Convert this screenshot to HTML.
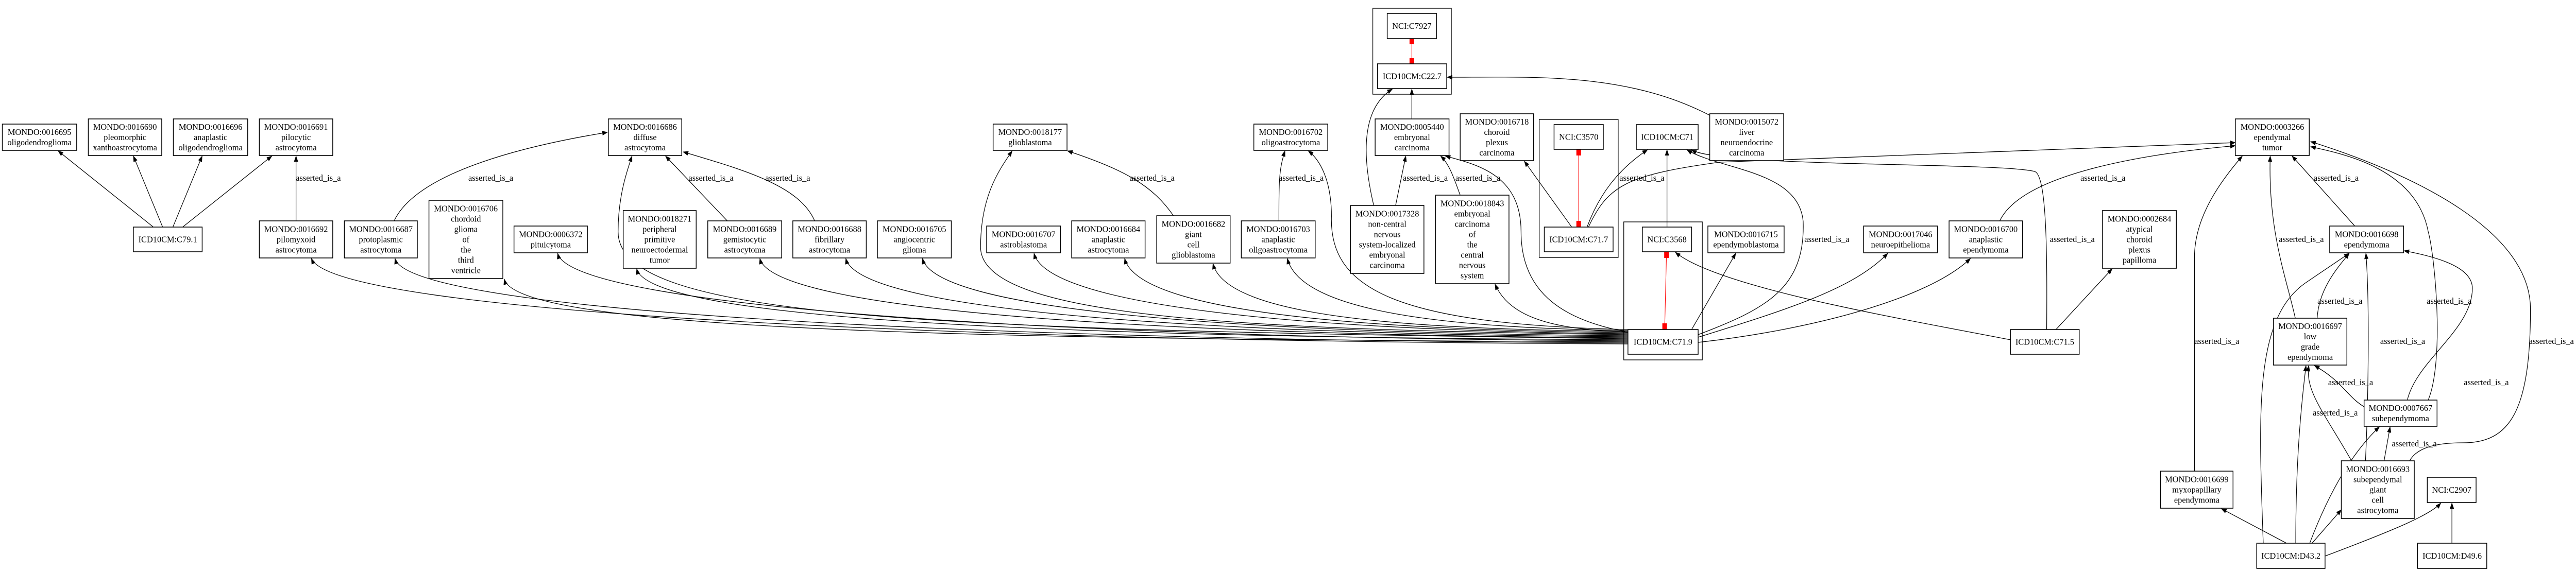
<!DOCTYPE html>
<html><head><meta charset="utf-8"><style>
html,body{margin:0;padding:0;background:#fff;overflow:hidden;}
svg{display:block;width:100vw;height:100vh;}
text{font-family:"Liberation Serif",serif;font-size:16.5px;text-anchor:middle;fill:#000;}
.n rect{fill:#fff;stroke:#000;stroke-width:1.6;}
.e{fill:none;stroke:#000;stroke-width:1.3;marker-end:url(#a);}
.c{fill:none;stroke:#000;stroke-width:1.4;}
</style></head><body>
<svg viewBox="0 0 5543 1109" preserveAspectRatio="none" xmlns="http://www.w3.org/2000/svg">
<defs><marker id="a" markerUnits="userSpaceOnUse" markerWidth="12" markerHeight="9" refX="11" refY="4.5" orient="auto"><path d="M0,0 L12,4.5 L0,9 z" fill="#000"/></marker></defs>

<rect class="c" x="2954" y="16" width="169" height="167"/>
<rect class="c" x="3312" y="232" width="170" height="268"/>
<rect class="c" x="3494" y="431" width="169" height="268"/>

<g stroke="red" fill="red">
<line x1="3038" y1="75" x2="3038" y2="124" stroke-width="1.2"/>
<rect x="3033" y="75" width="10" height="11" stroke="none"/><rect x="3033" y="113" width="10" height="11" stroke="none"/>
<line x1="3397" y1="290" x2="3397" y2="441" stroke-width="1.2"/>
<rect x="3392" y="290" width="10" height="12" stroke="none"/><rect x="3392" y="429" width="10" height="12" stroke="none"/>
<line x1="3586" y1="489" x2="3582" y2="640" stroke-width="1.2"/>
<rect x="3581" y="489" width="10" height="12" stroke="none"/><rect x="3577" y="628" width="10" height="12" stroke="none"/>
</g>

<path class="e" d="M330,441 L125,293"/>
<path class="e" d="M350,441 L287,303"/>
<path class="e" d="M372,441 L435,303"/>
<path class="e" d="M393,441 L585,303"/>
<path class="e" d="M637,429 L637,303"/>
<path class="e" d="M848,429 C900,330 1150,280 1307,257"/>
<path class="e" d="M1565,429 L1432,303"/>
<path class="e" d="M1753,429 C1720,360 1600,330 1470,295"/>
<path class="e" d="M2525,419 C2480,360 2420,330 2297,293"/>
<path class="e" d="M2752,429 C2752,350 2752,330 2765,293"/>
<path class="e" d="M3003,399 L3025,303"/>
<path class="e" d="M3142,379 C3130,350 3120,320 3100,303"/>
<path class="e" d="M2956,399 C2930,300 2930,210 2996,173"/>
<path class="e" d="M3038,231 L3038,173"/>
<path class="e" d="M3679,224 C3500,140 3300,150 3114,150"/>
<path class="e" d="M3382,441 L3280,313"/>
<path class="e" d="M3415,441 C3440,380 3480,330 3545,291"/>
<path class="e" d="M3418,441 C3460,360 3500,340 3700,315 L4810,277"/>
<path class="e" d="M3587,441 L3587,291"/>
<path class="e" d="M3654,650 C3800,600 3885,560 3880,430 C3870,330 3700,330 3630,291"/>
<path class="e" d="M4404,640 C4405,500 4405,340 4378,333 C4300,315 3700,325 3640,291"/>
<path class="e" d="M4326,660 C4100,620 3700,560 3605,490"/>
<path class="e" d="M4424,640 L4545,522"/>
<path class="e" d="M3640,640 L3735,492"/>
<path class="e" d="M3654,655 C3850,600 3990,560 4062,492"/>
<path class="e" d="M3654,665 C3900,640 4150,580 4240,502"/>
<path class="e" d="M4303,429 C4350,340 4600,300 4810,283"/>
<path class="e" d="M5067,439 L4932,303"/>
<path class="e" d="M4939,618 C4920,540 4880,450 4885,303"/>
<path class="e" d="M4722,915 L4722,500 C4722,420 4780,350 4825,303"/>
<path class="e" d="M5185,895 C5200,870 5240,860 5300,860 C5400,860 5445,800 5445,600 C5445,450 5200,340 4972,275"/>
<path class="e" d="M5225,777 C5260,700 5240,500 5225,450 C5200,330 5050,300 4972,285"/>
<path class="e" d="M5180,777 C5200,700 5320,640 5320,560 C5320,520 5250,500 5173,487"/>
<path class="e" d="M4986,618 C4990,560 5030,520 5055,492"/>
<path class="e" d="M5087,790 C5050,770 5040,740 4980,710"/>
<path class="e" d="M5060,895 C5000,800 4960,760 4968,710"/>
<path class="e" d="M5130,895 L5143,829"/>
<path class="e" d="M5090,895 C5095,800 5100,600 5091,492"/>
<path class="e" d="M4920,1055 L4780,988"/>
<path class="e" d="M4940,1055 C4940,900 4950,800 4962,710"/>
<path class="e" d="M4975,1055 L5038,990"/>
<path class="e" d="M4970,1055 C5010,960 5060,880 5120,829"/>
<path class="e" d="M5003,1080 C5150,1030 5230,1000 5252,977"/>
<path class="e" d="M4870,1055 C4860,800 4850,620 4960,550 L5055,492"/>
<path class="e" d="M5276,1055 L5276,977"/>

<path class="e" d="M3503,668 C2087,663 720,610 670,502"/>
<path class="e" d="M3503,666 C2177,661 880,610 850,502"/>
<path class="e" d="M3503,664 C2294,659 1115,650 1085,542"/>
<path class="e" d="M3503,662 C2352,657 1230,600 1200,492"/>
<path class="e" d="M3503,660 C2437,655 1400,630 1370,522"/>
<path class="e" d="M3503,658 C2000,640 1330,620 1330,450 C1330,380 1350,330 1360,303"/>
<path class="e" d="M3503,656 C2569,651 1665,610 1635,502"/>
<path class="e" d="M3503,654 C2662,649 1850,610 1820,502"/>
<path class="e" d="M3503,652 C2744,647 2015,610 1985,502"/>
<path class="e" d="M3503,650 C2700,640 2110,620 2110,480 C2110,380 2150,330 2178,293"/>
<path class="e" d="M3503,648 C2864,643 2255,600 2225,492"/>
<path class="e" d="M3503,646 C2962,641 2450,610 2420,502"/>
<path class="e" d="M3503,644 C3057,639 2640,620 2610,512"/>
<path class="e" d="M3503,642 C3137,637 2800,610 2770,502"/>
<path class="e" d="M3503,640 C3000,630 2860,560 2865,420 C2865,350 2840,310 2815,293"/>
<path class="e" d="M3503,645 C3350,620 3273,560 3273,450 C3273,340 3180,320 3110,303"/>
<path class="e" d="M3503,645 C3350,640 3250,620 3217,552"/>

<g transform="translate(685,0) scale(1.1,1)"><text y="351">asserted_is_a</text></g>
<g transform="translate(1056,0) scale(1.1,1)"><text y="351">asserted_is_a</text></g>
<g transform="translate(1530,0) scale(1.1,1)"><text y="351">asserted_is_a</text></g>
<g transform="translate(1695,0) scale(1.1,1)"><text y="351">asserted_is_a</text></g>
<g transform="translate(2479,0) scale(1.1,1)"><text y="351">asserted_is_a</text></g>
<g transform="translate(2800,0) scale(1.1,1)"><text y="351">asserted_is_a</text></g>
<g transform="translate(3067,0) scale(1.1,1)"><text y="351">asserted_is_a</text></g>
<g transform="translate(3180,0) scale(1.1,1)"><text y="351">asserted_is_a</text></g>
<g transform="translate(3533,0) scale(1.1,1)"><text y="351">asserted_is_a</text></g>
<g transform="translate(3931,0) scale(1.1,1)"><text y="470">asserted_is_a</text></g>
<g transform="translate(4525,0) scale(1.1,1)"><text y="351">asserted_is_a</text></g>
<g transform="translate(4459,0) scale(1.1,1)"><text y="470">asserted_is_a</text></g>
<g transform="translate(5027,0) scale(1.1,1)"><text y="351">asserted_is_a</text></g>
<g transform="translate(4952,0) scale(1.1,1)"><text y="470">asserted_is_a</text></g>
<g transform="translate(5035,0) scale(1.1,1)"><text y="590">asserted_is_a</text></g>
<g transform="translate(5270,0) scale(1.1,1)"><text y="590">asserted_is_a</text></g>
<g transform="translate(4770,0) scale(1.1,1)"><text y="668">asserted_is_a</text></g>
<g transform="translate(5170,0) scale(1.1,1)"><text y="668">asserted_is_a</text></g>
<g transform="translate(5490,0) scale(1.1,1)"><text y="668">asserted_is_a</text></g>
<g transform="translate(5058,0) scale(1.1,1)"><text y="748">asserted_is_a</text></g>
<g transform="translate(5350,0) scale(1.1,1)"><text y="748">asserted_is_a</text></g>
<g transform="translate(5025,0) scale(1.1,1)"><text y="807">asserted_is_a</text></g>
<g transform="translate(5195,0) scale(1.1,1)"><text y="867">asserted_is_a</text></g>

<g class="n">
<rect x="5" y="241" width="160" height="51"/><g transform="translate(85,0) scale(1.1,1)"><text y="262">MONDO:0016695</text><text y="282">oligodendroglioma</text></g>
<rect x="190" y="231" width="158" height="71"/><g transform="translate(269,0) scale(1.1,1)"><text y="252">MONDO:0016690</text><text y="272">pleomorphic</text><text y="292">xanthoastrocytoma</text></g>
<rect x="373" y="231" width="160" height="71"/><g transform="translate(453,0) scale(1.1,1)"><text y="252">MONDO:0016696</text><text y="272">anaplastic</text><text y="292">oligodendroglioma</text></g>
<rect x="558" y="231" width="158" height="71"/><g transform="translate(637,0) scale(1.1,1)"><text y="252">MONDO:0016691</text><text y="272">pilocytic</text><text y="292">astrocytoma</text></g>
<rect x="287" y="441" width="148" height="48"/><g transform="translate(361,0) scale(1.1,1)"><text y="470.5">ICD10CM:C79.1</text></g>
<rect x="558" y="429" width="158" height="72"/><g transform="translate(637,0) scale(1.1,1)"><text y="450.5">MONDO:0016692</text><text y="470.5">pilomyxoid</text><text y="490.5">astrocytoma</text></g>
<rect x="741" y="429" width="157" height="72"/><g transform="translate(819.5,0) scale(1.1,1)"><text y="450.5">MONDO:0016687</text><text y="470.5">protoplasmic</text><text y="490.5">astrocytoma</text></g>
<rect x="923" y="389" width="159" height="152"/><g transform="translate(1002.5,0) scale(1.1,1)"><text y="410.5">MONDO:0016706</text><text y="430.5">chordoid</text><text y="450.5">glioma</text><text y="470.5">of</text><text y="490.5">the</text><text y="510.5">third</text><text y="530.5">ventricle</text></g>
<rect x="1106" y="439" width="158" height="52"/><g transform="translate(1185,0) scale(1.1,1)"><text y="460.5">MONDO:0006372</text><text y="480.5">pituicytoma</text></g>
<rect x="1341" y="409" width="157" height="112"/><g transform="translate(1419.5,0) scale(1.1,1)"><text y="430.5">MONDO:0018271</text><text y="450.5">peripheral</text><text y="470.5">primitive</text><text y="490.5">neuroectodermal</text><text y="510.5">tumor</text></g>
<rect x="1309" y="231" width="158" height="71"/><g transform="translate(1388,0) scale(1.1,1)"><text y="252">MONDO:0016686</text><text y="272">diffuse</text><text y="292">astrocytoma</text></g>
<rect x="1523" y="429" width="159" height="72"/><g transform="translate(1602.5,0) scale(1.1,1)"><text y="450.5">MONDO:0016689</text><text y="470.5">gemistocytic</text><text y="490.5">astrocytoma</text></g>
<rect x="1706" y="429" width="158" height="72"/><g transform="translate(1785,0) scale(1.1,1)"><text y="450.5">MONDO:0016688</text><text y="470.5">fibrillary</text><text y="490.5">astrocytoma</text></g>
<rect x="1888" y="429" width="159" height="72"/><g transform="translate(1967.5,0) scale(1.1,1)"><text y="450.5">MONDO:0016705</text><text y="470.5">angiocentric</text><text y="490.5">glioma</text></g>
<rect x="2137" y="241" width="159" height="51"/><g transform="translate(2216.5,0) scale(1.1,1)"><text y="262">MONDO:0018177</text><text y="282">glioblastoma</text></g>
<rect x="2123" y="439" width="159" height="52"/><g transform="translate(2202.5,0) scale(1.1,1)"><text y="460.5">MONDO:0016707</text><text y="480.5">astroblastoma</text></g>
<rect x="2306" y="429" width="158" height="72"/><g transform="translate(2385,0) scale(1.1,1)"><text y="450.5">MONDO:0016684</text><text y="470.5">anaplastic</text><text y="490.5">astrocytoma</text></g>
<rect x="2489" y="419" width="158" height="92"/><g transform="translate(2568,0) scale(1.1,1)"><text y="440.5">MONDO:0016682</text><text y="460.5">giant</text><text y="480.5">cell</text><text y="500.5">glioblastoma</text></g>
<rect x="2698" y="241" width="159" height="51"/><g transform="translate(2777.5,0) scale(1.1,1)"><text y="262">MONDO:0016702</text><text y="282">oligoastrocytoma</text></g>
<rect x="2671" y="429" width="159" height="72"/><g transform="translate(2750.5,0) scale(1.1,1)"><text y="450.5">MONDO:0016703</text><text y="470.5">anaplastic</text><text y="490.5">oligoastrocytoma</text></g>
<rect x="2959" y="231" width="159" height="71"/><g transform="translate(3038.5,0) scale(1.1,1)"><text y="252">MONDO:0005440</text><text y="272">embryonal</text><text y="292">carcinoma</text></g>
<rect x="2906" y="399" width="158" height="132"/><g transform="translate(2985,0) scale(1.1,1)"><text y="420.5">MONDO:0017328</text><text y="440.5">non-central</text><text y="460.5">nervous</text><text y="480.5">system-localized</text><text y="500.5">embryonal</text><text y="520.5">carcinoma</text></g>
<rect x="3089" y="379" width="158" height="172"/><g transform="translate(3168,0) scale(1.1,1)"><text y="400.5">MONDO:0018843</text><text y="420.5">embryonal</text><text y="440.5">carcinoma</text><text y="460.5">of</text><text y="480.5">the</text><text y="500.5">central</text><text y="520.5">nervous</text><text y="540.5">system</text></g>
<rect x="2985" y="26" width="106" height="49"/><g transform="translate(3038,0) scale(1.1,1)"><text y="56">NCI:C7927</text></g>
<rect x="2964" y="124" width="149" height="48"/><g transform="translate(3038.5,0) scale(1.1,1)"><text y="153.5">ICD10CM:C22.7</text></g>
<rect x="3142" y="221" width="158" height="91"/><g transform="translate(3221,0) scale(1.1,1)"><text y="242">MONDO:0016718</text><text y="262">choroid</text><text y="282">plexus</text><text y="302">carcinoma</text></g>
<rect x="3344" y="242" width="106" height="48"/><g transform="translate(3397,0) scale(1.1,1)"><text y="271.5">NCI:C3570</text></g>
<rect x="3323" y="441" width="148" height="48"/><g transform="translate(3397,0) scale(1.1,1)"><text y="470.5">ICD10CM:C71.7</text></g>
<rect x="3521" y="242" width="133" height="48"/><g transform="translate(3587.5,0) scale(1.1,1)"><text y="271.5">ICD10CM:C71</text></g>
<rect x="3679" y="221" width="159" height="91"/><g transform="translate(3758.5,0) scale(1.1,1)"><text y="242">MONDO:0015072</text><text y="262">liver</text><text y="282">neuroendocrine</text><text y="302">carcinoma</text></g>
<rect x="3534" y="441" width="106" height="48"/><g transform="translate(3587,0) scale(1.1,1)"><text y="470.5">NCI:C3568</text></g>
<rect x="3503" y="640" width="151" height="48"/><g transform="translate(3578.5,0) scale(1.1,1)"><text y="669.5">ICD10CM:C71.9</text></g>
<rect x="3675" y="439" width="164" height="52"/><g transform="translate(3757,0) scale(1.1,1)"><text y="460.5">MONDO:0016715</text><text y="480.5">ependymoblastoma</text></g>
<rect x="4010" y="439" width="159" height="52"/><g transform="translate(4089.5,0) scale(1.1,1)"><text y="460.5">MONDO:0017046</text><text y="480.5">neuroepithelioma</text></g>
<rect x="4194" y="429" width="158" height="72"/><g transform="translate(4273,0) scale(1.1,1)"><text y="450.5">MONDO:0016700</text><text y="470.5">anaplastic</text><text y="490.5">ependymoma</text></g>
<rect x="4326" y="640" width="148" height="48"/><g transform="translate(4400,0) scale(1.1,1)"><text y="669.5">ICD10CM:C71.5</text></g>
<rect x="4524" y="409" width="159" height="112"/><g transform="translate(4603.5,0) scale(1.1,1)"><text y="430.5">MONDO:0002684</text><text y="450.5">atypical</text><text y="470.5">choroid</text><text y="490.5">plexus</text><text y="510.5">papilloma</text></g>
<rect x="4810" y="231" width="159" height="71"/><g transform="translate(4889.5,0) scale(1.1,1)"><text y="252">MONDO:0003266</text><text y="272">ependymal</text><text y="292">tumor</text></g>
<rect x="5013" y="439" width="159" height="52"/><g transform="translate(5092.5,0) scale(1.1,1)"><text y="460.5">MONDO:0016698</text><text y="480.5">ependymoma</text></g>
<rect x="4892" y="618" width="158" height="91"/><g transform="translate(4971,0) scale(1.1,1)"><text y="639">MONDO:0016697</text><text y="659">low</text><text y="679">grade</text><text y="699">ependymoma</text></g>
<rect x="5087" y="777" width="157" height="51"/><g transform="translate(5165.5,0) scale(1.1,1)"><text y="798">MONDO:0007667</text><text y="818">subependymoma</text></g>
<rect x="5038" y="895" width="157" height="112"/><g transform="translate(5116.5,0) scale(1.1,1)"><text y="916.5">MONDO:0016693</text><text y="936.5">subependymal</text><text y="956.5">giant</text><text y="976.5">cell</text><text y="996.5">astrocytoma</text></g>
<rect x="4649" y="915" width="156" height="72"/><g transform="translate(4727,0) scale(1.1,1)"><text y="936.5">MONDO:0016699</text><text y="956.5">myxopapillary</text><text y="976.5">ependymoma</text></g>
<rect x="5223" y="927" width="105" height="49"/><g transform="translate(5275.5,0) scale(1.1,1)"><text y="957">NCI:C2907</text></g>
<rect x="4856" y="1055" width="147" height="49"/><g transform="translate(4929.5,0) scale(1.1,1)"><text y="1085">ICD10CM:D43.2</text></g>
<rect x="5202" y="1055" width="149" height="49"/><g transform="translate(5276.5,0) scale(1.1,1)"><text y="1085">ICD10CM:D49.6</text></g>
</g>
</svg>
</body></html>
